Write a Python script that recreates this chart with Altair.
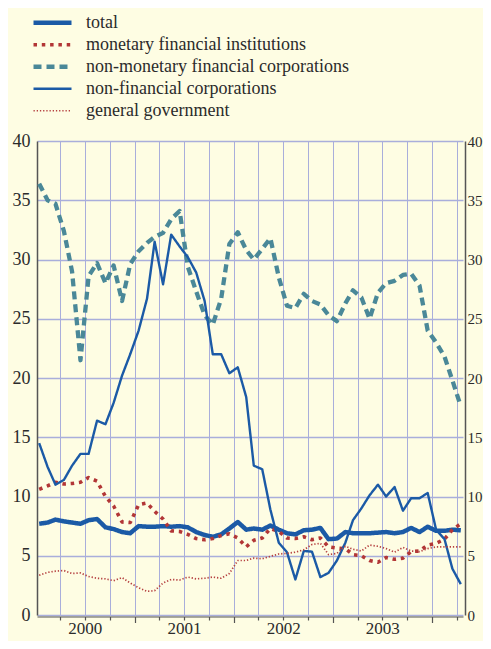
import altair as alt
import pandas as pd

# ---- data (annual growth rates, %), monthly Jan 2000 - Apr 2004 ----
series_names = [
    "total",
    "monetary financial institutions",
    "non-monetary financial corporations",
    "non-financial corporations",
    "general government",
]

total = [7.7, 7.8, 8.05, 7.9, 7.8, 7.7, 8.0, 8.1, 7.4, 7.25, 7.0, 6.9,
         7.5, 7.45, 7.45, 7.5, 7.45, 7.5, 7.4, 7.0, 6.75, 6.6, 6.8, 7.3,
         7.85, 7.2, 7.3, 7.2, 7.55, 7.2, 6.9, 6.8, 7.15, 7.2, 7.35, 6.4,
         6.45, 7.0, 6.9, 6.9, 6.9, 6.95, 7.0, 6.9, 7.0, 7.35, 7.0, 7.45,
         7.1, 7.1, 7.2, 7.15]

mfi = [10.6, 10.9, 11.2, 11.05, 11.1, 11.2, 11.6, 11.3, 10.0, 9.2, 7.85, 7.8,
       9.3, 9.45, 8.75, 8.1, 7.1, 7.05, 6.8, 6.45, 6.35, 6.45, 6.7, 6.85,
       6.5, 5.75, 6.3, 6.5, 7.3, 7.05, 6.5, 6.45, 6.6, 6.35, 6.5, 5.75,
       5.65, 5.6, 5.1, 5.0, 4.6, 4.45, 4.85, 4.7, 4.8, 5.35, 5.4, 5.9,
       6.05, 6.4, 7.2, 7.7]

nmfc = [36.4, 35.0, 34.7, 32.4, 29.0, 21.5, 28.6, 29.7, 28.0, 29.5, 26.5, 29.6,
        30.7, 31.4, 31.9, 32.25, 33.4, 34.1, 29.4, 27.3, 25.3, 24.5, 26.7, 31.3,
        32.3, 30.8, 30.0, 30.9, 31.8, 28.5, 26.1, 25.9, 27.1, 26.5, 26.2, 25.3,
        24.8, 26.3, 27.4, 26.8, 25.0, 27.2, 28.0, 28.2, 28.7, 28.8, 27.8, 24.0,
        23.0, 21.8, 19.8, 17.6]

nfc = [14.5, 12.5, 11.0, 11.4, 12.6, 13.6, 13.6, 16.4, 16.1, 17.9, 20.2, 22.0,
       24.0, 26.7, 31.5, 27.9, 32.1, 31.1, 30.2, 28.9, 26.5, 22.0, 22.0, 20.4,
       20.9, 18.4, 12.6, 12.3, 8.9, 6.1, 5.3, 3.0, 5.4, 5.35, 3.2, 3.55,
       4.6, 6.1, 8.0, 9.0, 10.1, 11.0, 10.0, 10.8, 8.8, 9.85, 9.85, 10.3,
       7.2, 6.4, 3.9, 2.6]

gg = [3.35, 3.6, 3.7, 3.75, 3.5, 3.55, 3.25, 3.1, 3.05, 2.9, 3.15, 2.7,
      2.3, 2.0, 2.05, 2.7, 3.0, 2.95, 3.2, 3.05, 3.1, 3.2, 3.1, 3.5,
      4.6, 4.6, 4.8, 4.75, 4.95, 5.15, 5.2, 5.3, 5.5, 5.95, 6.05, 5.1,
      5.2, 5.8, 5.55, 5.4, 5.9, 5.8, 5.6, 5.3, 5.7, 5.4, 5.35, 5.6,
      5.75, 5.75, 5.75, 5.75]

dates = [f"{2000 + i // 12}-{i % 12 + 1:02d}-15" for i in range(52)]

y_ticks = [0, 5, 10, 15, 20, 25, 30, 35, 40]
quarter_ticks = [alt.DateTime(year=2000 + q // 4, month=(q % 4) * 3 + 1, date=1, utc=True)
                 for q in range(18)]

colors = ["#1b5aa6", "#b23636", "#4a8898", "#1b5aa6", "#b54040"]
dashes = [[1, 0], [3.5, 4.8], [8, 5], [1, 0], [1.3, 1.9]]
widths = [4.5, 3.6, 4.3, 2.4, 1.7]

rows = []
for name, vals in zip(series_names, [total, mfi, nmfc, nfc, gg]):
    for d, v in zip(dates, vals):
        rows.append({"date": d, "series": name, "value": v})
df = pd.DataFrame(rows)

FONT = "Liberation Serif"
TXT = "#2b2b2b"
AX = "#555555"
GRID = "#a9aedb"

x_scale = alt.Scale(type="utc",
                    domain=[alt.DateTime(year=2000, month=1, date=7, utc=True),
                            alt.DateTime(year=2004, month=4, date=23, utc=True)])
y_scale = alt.Scale(domain=[0, 40], nice=False)

legend = alt.Legend(orient="none", legendX=-6, legendY=-129, title=None,
                    direction="vertical", symbolType="stroke",
                    symbolSize=1444, clipHeight=21.5, rowPadding=0,
                    padding=0, labelFont=FONT, labelFontSize=18,
                    labelColor=TXT, labelOffset=12, labelLimit=0)

lines = alt.Chart(df).mark_line(strokeCap="butt", strokeJoin="round").encode(
    x=alt.X("date:T", scale=x_scale, title=None,
            axis=alt.Axis(values=quarter_ticks, grid=True, gridColor=GRID, gridWidth=1,
                          domainColor=AX, domainWidth=1.2, tickColor=AX, tickWidth=1.2,
                          tickSize={"condition": {"test": "utcmonth(datum.value) == 0", "value": 6},
                                    "value": 3.5},
                          offset=1.5, labelPadding=0, labelFont=FONT, labelFontSize=17,
                          labelColor=TXT, labelFlush=False, labelOverlap=False,
                          labelExpr="utcmonth(datum.value) == 6 ? utcFormat(datum.value, '%Y') : ''")),
    y=alt.Y("value:Q", scale=y_scale, title=None,
            axis=alt.Axis(values=y_ticks, grid=True, gridColor=GRID, gridWidth=1.3,
                          domainColor=AX, domainWidth=1.5, ticks=False, labelPadding=7,
                          labelFont=FONT, labelFontSize=18, labelColor=TXT)),
    color=alt.Color("series:N", scale=alt.Scale(domain=series_names, range=colors), legend=legend),
    strokeDash=alt.StrokeDash("series:N", scale=alt.Scale(domain=series_names, range=dashes), legend=legend),
    strokeWidth=alt.StrokeWidth("series:N",
                                scale=alt.Scale(type="ordinal", domain=series_names, range=widths),
                                legend=legend),
    detail="series:N",
    order="date:T",
)

right = alt.Chart(df).mark_line(opacity=0).encode(
    y=alt.Y("value:Q", scale=y_scale, title=None,
            axis=alt.Axis(orient="right", values=y_ticks, grid=False, offset=2,
                          domainColor=AX, domainWidth=1.5, ticks=False, labelPadding=2,
                          labelFont=FONT, labelFontSize=15, labelColor=TXT)),
    detail="series:N",
)

chart = alt.layer(lines, right).resolve_axis(y="independent").properties(
    width=426, height=474,
    autosize=alt.AutoSizeParams(type="none"),
    padding={"left": 29, "top": 133, "right": 20, "bottom": 26},
    background="#fefde3",
).configure_view(stroke=None)

chart.save("out.html", embed_options={"renderer": "svg", "actions": False})
